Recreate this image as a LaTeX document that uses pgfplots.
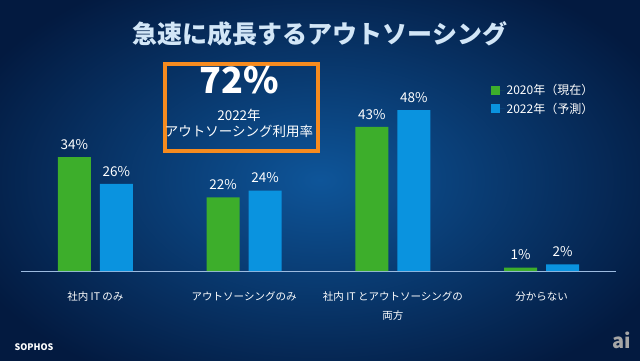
\documentclass[border=0pt]{standalone}
\usepackage{pgfplots}
\pgfplotsset{compat=1.18}
\usepackage{fontspec}
\setmainfont{Noto Sans CJK JP}
\definecolor{bgin}{HTML}{0E5599}
\definecolor{bgout}{HTML}{031A40}
\definecolor{titlec}{HTML}{D2E6F7}
\definecolor{barg}{HTML}{3DAE2B}
\definecolor{barb}{HTML}{0A93DF}
\definecolor{boxo}{HTML}{F68B1F}
\definecolor{basel}{HTML}{9DBBE0}
\begin{document}
\begin{tikzpicture}[x=1pt,y=1pt]
\useasboundingbox (0,0) rectangle (640,360);
\begin{scope}
\clip (0,0) rectangle (640,360);
\shade[inner color=bgin, outer color=bgout] (-60,-50) rectangle (700,410);
\end{scope}
\node[text=titlec, font=\fontsize{25}{28}\selectfont\bfseries] at (320,326) {急速に成長するアウトソーシング};
\begin{axis}[
  at={(21pt,89pt)}, anchor=south west,
  scale only axis, width=595pt, height=167.5pt,
  xmin=-0.5, xmax=3.5, ymin=0, ymax=50,
  axis x line=bottom, axis y line=none,
  x axis line style={draw=basel, line width=0.8pt, -},
  xtick=data,
  xticklabels={社内 IT のみ, アウトソーシングのみ, {社内 IT とアウトソーシングの\\[7pt]両方}, 分からない},
  xtick style={draw=none},
  xticklabel style={text=white, font=\fontsize{10.5}{12}\selectfont, align=center, yshift=-13pt},
  ybar=9pt, bar width=33pt,
  nodes near coords={\pgfmathprintnumber{\pgfplotspointmeta}\%},
  nodes near coords style={text=white, font=\fontsize{13.5}{15}\selectfont, yshift=4pt},
  /pgf/number format/assume math mode=true,
  legend style={at={(0.784,1.14)}, anchor=north west, draw=none, fill=none,
    text=white, font=\fontsize{12}{13}\selectfont, row sep=3pt},
  legend cell align=left,
  legend image code/.code={\fill[#1] (0pt,-4.5pt) rectangle (9pt,4.5pt); \path (9pt,0pt) -- (14pt,0pt);},
]
\addplot[fill=barg, draw=none] coordinates {(0,34) (1,22) (2,43) (3,1)};
\addplot[fill=barb, draw=none] coordinates {(0,26) (1,24) (2,48) (3,2)};
\legend{2020年（現在）, 2022年（予測）}
\end{axis}
\draw[boxo, line width=4pt] (165,296) rectangle (318,209);
\node[text=white, font=\fontsize{36}{38}\selectfont\bfseries] at (239,280) {72\%};
\node[text=white, font=\fontsize{13.5}{15}\selectfont] at (239,245) {2022年};
\node[text=white, font=\fontsize{13.5}{15}\selectfont] at (239,229) {アウトソーシング利用率};
\node[text=white, font=\fontsize{9}{10}\selectfont\bfseries, anchor=west] at (11,13) {SOPHOS};
\node[text=gray!70, font=\fontsize{20}{20}\selectfont\bfseries\itshape] at (622,20) {ai};
\end{tikzpicture}
\end{document}
